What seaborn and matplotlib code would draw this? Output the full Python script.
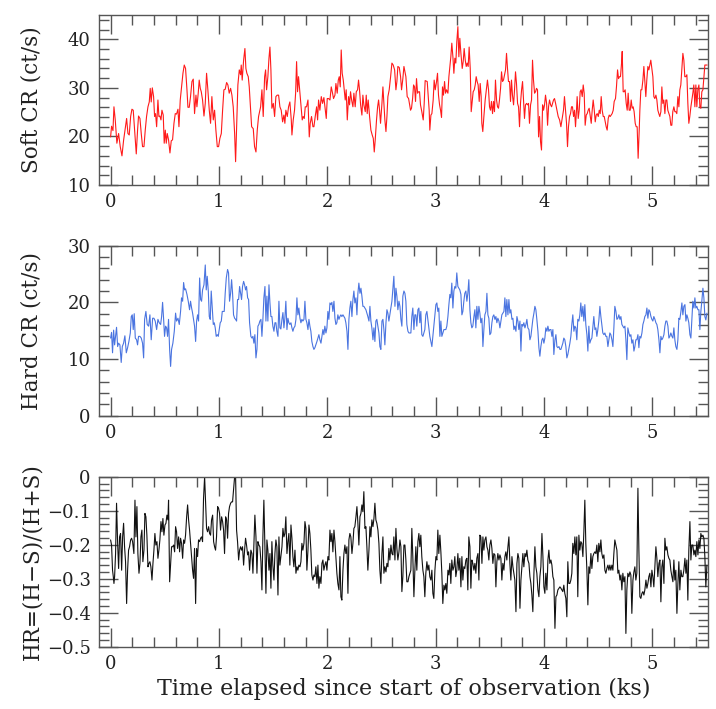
import matplotlib
matplotlib.use("Agg")
import matplotlib.pyplot as plt
from matplotlib.ticker import MultipleLocator, FuncFormatter
import pandas as pd
import seaborn as sns

# ---------------------------------
# Data
# ---------------------------------
soft_time = [
    0.000, 0.009, 0.022, 0.031, 0.043, 0.058, 0.074, 0.089, 0.105, 0.120,
    0.135, 0.148, 0.160, 0.172, 0.185, 0.197, 0.209, 0.222, 0.237, 0.249,
    0.258, 0.271, 0.283, 0.295, 0.308, 0.320, 0.332, 0.345, 0.357, 0.366,
    0.375, 0.385, 0.397, 0.406, 0.415, 0.425, 0.437, 0.446, 0.455, 0.465,
    0.474, 0.486, 0.495, 0.505, 0.514, 0.523, 0.535, 0.548, 0.560, 0.572,
    0.585, 0.597, 0.609, 0.622, 0.631, 0.643, 0.655, 0.668, 0.680, 0.692,
    0.705, 0.714, 0.726, 0.738, 0.751, 0.763, 0.775, 0.788, 0.797, 0.809,
    0.818, 0.828, 0.837, 0.849, 0.862, 0.874, 0.886, 0.898, 0.911, 0.923,
    0.935, 0.948, 0.960, 0.972, 0.985, 0.997, 1.009, 1.022, 1.034, 1.046,
    1.058, 1.071, 1.083, 1.095, 1.108, 1.120, 1.132, 1.145, 1.154, 1.166,
    1.175, 1.188, 1.200, 1.206, 1.215, 1.228, 1.240, 1.249, 1.258, 1.271,
    1.280, 1.302, 1.317, 1.329, 1.342, 1.354, 1.366, 1.385, 1.397, 1.409,
    1.422, 1.431, 1.440, 1.452, 1.462, 1.471, 1.480, 1.489, 1.502, 1.514,
    1.526, 1.538, 1.551, 1.563, 1.575, 1.588, 1.600, 1.609, 1.618, 1.631,
    1.643, 1.655, 1.668, 1.674, 1.686, 1.698, 1.708, 1.717, 1.726, 1.735,
    1.748, 1.757, 1.769, 1.778, 1.788, 1.797, 1.809, 1.822, 1.834, 1.843,
    1.855, 1.868, 1.877, 1.889, 1.902, 1.911, 1.920, 1.932, 1.945, 1.957,
    1.969, 1.982, 1.991, 2.000, 2.012, 2.025, 2.037, 2.049, 2.058, 2.071,
    2.080, 2.092, 2.102, 2.111, 2.120, 2.129, 2.138, 2.148, 2.157, 2.166,
    2.175, 2.185, 2.197, 2.206, 2.215, 2.225, 2.237, 2.246, 2.258, 2.268,
    2.280, 2.289, 2.298, 2.308, 2.320, 2.329, 2.338, 2.351, 2.360, 2.369,
    2.378, 2.391, 2.403, 2.415, 2.425, 2.434, 2.443, 2.455, 2.465, 2.474,
    2.483, 2.492, 2.505, 2.514, 2.523, 2.532, 2.542, 2.551, 2.560, 2.572,
    2.585, 2.597, 2.609, 2.622, 2.634, 2.643, 2.652, 2.665, 2.677, 2.686,
    2.698, 2.708, 2.717, 2.726, 2.738, 2.751, 2.769, 2.778, 2.788, 2.797,
    2.806, 2.815, 2.824, 2.834, 2.843, 2.852, 2.861, 2.873, 2.886, 2.895,
    2.904, 2.913, 2.923, 2.932, 2.941, 2.947, 2.957, 2.966, 2.978, 2.987,
    2.997, 3.009, 3.018, 3.027, 3.037, 3.046, 3.055, 3.064, 3.073, 3.083,
    3.092, 3.101, 3.114, 3.123, 3.132, 3.141, 3.150, 3.160, 3.169, 3.178,
    3.187, 3.196, 3.206, 3.215, 3.224, 3.234, 3.246, 3.255, 3.264, 3.274,
    3.283, 3.292, 3.301, 3.310, 3.320, 3.329, 3.338, 3.347, 3.357, 3.366,
    3.375, 3.384, 3.393, 3.403, 3.412, 3.421, 3.427, 3.436, 3.446, 3.458,
    3.470, 3.479, 3.489, 3.498, 3.507, 3.516, 3.526, 3.535, 3.544, 3.553,
    3.563, 3.572, 3.581, 3.590, 3.600, 3.609, 3.618, 3.627, 3.637, 3.646,
    3.655, 3.664, 3.673, 3.683, 3.692, 3.701, 3.710, 3.720, 3.729, 3.738,
    3.747, 3.757, 3.766, 3.775, 3.784, 3.794, 3.803, 3.812, 3.821, 3.830,
    3.840, 3.849, 3.858, 3.867, 3.877, 3.886, 3.895, 3.904, 3.914, 3.923,
    3.932, 3.941, 3.951, 3.960, 3.969, 3.978, 3.988, 3.997, 4.006, 4.015,
    4.025, 4.034, 4.043, 4.052, 4.062, 4.071, 4.080, 4.089, 4.098, 4.108,
    4.120, 4.132, 4.145, 4.157, 4.172, 4.181, 4.190, 4.200, 4.209, 4.218,
    4.227, 4.237, 4.246, 4.255, 4.264, 4.274, 4.283, 4.292, 4.301, 4.307,
    4.317, 4.326, 4.335, 4.344, 4.354, 4.363, 4.372, 4.381, 4.391, 4.400,
    4.409, 4.418, 4.428, 4.437, 4.446, 4.455, 4.465, 4.474, 4.483, 4.492,
    4.502, 4.511, 4.520, 4.529, 4.538, 4.548, 4.557, 4.566, 4.575, 4.584,
    4.594, 4.603, 4.612, 4.621, 4.630, 4.640, 4.649, 4.661, 4.670, 4.680,
    4.689, 4.698, 4.707, 4.717, 4.723, 4.732, 4.741, 4.750, 4.760, 4.769,
    4.778, 4.787, 4.797, 4.806, 4.815, 4.824, 4.833, 4.843, 4.852, 4.861,
    4.870, 4.880, 4.886, 4.895, 4.904, 4.914, 4.923, 4.932, 4.941, 4.950,
    4.960, 4.969, 4.978, 4.987, 4.997, 5.006, 5.015, 5.024, 5.034, 5.043,
    5.052, 5.061, 5.070, 5.080, 5.089, 5.098, 5.107, 5.117, 5.126, 5.135,
    5.144, 5.154, 5.163, 5.172, 5.181, 5.190, 5.200, 5.209, 5.218, 5.227,
    5.237, 5.246, 5.255, 5.264, 5.274, 5.283, 5.292, 5.301, 5.310, 5.320,
    5.329, 5.338, 5.347, 5.357, 5.366, 5.375, 5.384, 5.394, 5.403, 5.412,
    5.421, 5.431, 5.440, 5.449, 5.458, 5.468, 5.477, 5.486, 5.495, 5.507,
]
soft_rate = [
    19.9, 22.1, 21.2, 26.1, 23.4, 18.6, 20.6, 17.9, 16.0, 19.2,
    21.6, 23.7, 20.6, 20.3, 24.1, 25.6, 25.4, 21.3, 16.4, 21.3,
    24.2, 23.7, 20.6, 17.9, 17.9, 21.3, 24.1, 26.1, 27.1, 29.9,
    27.1, 30.0, 28.2, 24.1, 24.7, 22.0, 27.5, 24.1, 24.2, 23.4,
    25.4, 24.4, 18.6, 21.3, 18.6, 20.6, 19.3, 16.6, 19.1, 19.3,
    22.7, 24.7, 24.6, 25.6, 22.0, 27.5, 30.2, 33.0, 34.7, 34.0,
    29.6, 26.0, 26.0, 28.2, 31.3, 31.8, 24.7, 28.5, 26.1, 28.9,
    31.6, 29.9, 29.2, 27.5, 24.2, 26.8, 33.0, 29.6, 25.4, 22.7,
    28.2, 23.4, 25.4, 21.3, 17.9, 17.9, 19.6, 20.6, 25.4, 29.6,
    29.7, 31.1, 30.6, 28.9, 29.9, 28.5, 26.1, 20.6, 14.8, 24.1,
    30.6, 33.7, 32.7, 34.7, 31.6, 35.7, 38.1, 34.0, 33.0, 32.3,
    30.2, 22.0, 21.6, 17.9, 16.8, 21.3, 24.1, 26.1, 29.6, 24.1,
    32.3, 33.7, 29.6, 32.3, 36.1, 38.4, 33.7, 25.8, 26.8, 24.1,
    28.2, 28.5, 28.5, 26.1, 25.4, 23.0, 24.4, 22.7, 25.4, 24.1,
    26.1, 27.1, 23.4, 20.3, 23.4, 25.4, 28.9, 35.4, 29.2, 32.3,
    28.9, 26.8, 23.4, 24.1, 23.7, 26.1, 26.1, 27.5, 19.9, 22.7,
    24.1, 22.0, 22.0, 24.1, 26.1, 23.4, 27.5, 25.4, 28.2, 26.8,
    28.0, 25.4, 23.7, 27.8, 27.8, 27.5, 30.2, 28.9, 27.8, 28.5,
    30.9, 28.9, 31.6, 32.3, 30.2, 37.8, 33.0, 31.6, 29.6, 27.5,
    29.6, 23.4, 28.2, 26.5, 29.2, 27.5, 26.1, 28.9, 26.1, 29.2,
    29.6, 31.6, 29.6, 26.5, 24.4, 28.5, 26.5, 25.1, 28.5, 24.7,
    27.5, 24.1, 21.3, 20.3, 19.6, 16.8, 19.3, 23.4, 26.1, 27.5,
    25.4, 22.7, 26.8, 30.2, 26.8, 23.4, 21.0, 24.1, 28.2, 29.6,
    32.3, 35.1, 34.7, 33.7, 29.6, 31.3, 34.4, 34.2, 32.3, 29.6,
    31.9, 34.4, 33.3, 32.3, 28.2, 27.8, 25.4, 25.8, 27.8, 30.6,
    30.2, 27.2, 31.9, 28.9, 29.2, 29.2, 26.5, 25.1, 23.4, 26.8,
    31.5, 31.4, 31.3, 28.2, 25.4, 21.3, 24.4, 24.7, 27.5, 31.6,
    29.6, 31.3, 33.0, 28.5, 26.5, 25.4, 23.9, 30.2, 28.5, 31.3,
    28.9, 29.6, 28.9, 32.3, 34.4, 36.4, 39.2, 36.4, 33.0, 36.1,
    35.1, 39.5, 42.6, 36.4, 40.2, 37.1, 34.0, 35.4, 38.1, 35.7,
    34.4, 35.1, 34.4, 38.4, 34.0, 25.1, 27.2, 29.2, 29.6, 30.6,
    32.3, 31.3, 30.6, 27.2, 30.9, 28.2, 22.7, 21.0, 24.1, 27.5,
    29.9, 31.6, 29.6, 26.1, 25.4, 27.2, 24.7, 27.2, 25.1, 31.6,
    27.5, 26.1, 25.8, 27.5, 29.9, 33.3, 31.3, 31.6, 32.7, 33.7,
    37.1, 34.0, 31.3, 31.3, 27.2, 31.6, 28.5, 26.5, 29.6, 33.3,
    30.9, 26.8, 26.1, 22.0, 26.8, 29.6, 31.3, 27.5, 23.7, 26.5,
    26.8, 26.5, 26.8, 22.7, 26.5, 27.5, 35.7, 31.6, 28.9, 29.2,
    29.9, 29.6, 19.9, 24.1, 18.9, 17.2, 26.5, 25.4, 26.5, 28.5,
    26.8, 22.3, 26.1, 27.5, 26.5, 26.1, 26.8, 27.5, 27.8, 26.8,
    25.4, 24.1, 23.4, 22.0, 24.1, 25.4, 28.2, 25.4, 22.7, 17.9,
    22.0, 24.1, 24.7, 26.1, 26.1, 24.1, 25.4, 22.0, 25.4, 28.2,
    23.7, 25.4, 29.2, 29.6, 28.2, 30.6, 28.9, 22.3, 24.4, 24.7,
    25.4, 25.8, 24.1, 22.7, 25.4, 27.5, 25.4, 23.0, 24.4, 24.7,
    24.1, 25.4, 24.7, 28.2, 25.4, 24.1, 24.1, 23.0, 22.0, 21.3,
    23.7, 24.4, 24.1, 24.4, 24.7, 25.4, 27.2, 27.8, 30.2, 33.7,
    31.9, 32.3, 32.3, 35.1, 37.5, 29.2, 29.2, 29.6, 26.8, 25.4,
    28.9, 25.4, 25.4, 27.5, 25.8, 26.1, 25.1, 22.7, 22.0, 22.0,
    15.5, 21.3, 25.4, 29.6, 29.6, 31.6, 34.4, 31.3, 28.2, 31.6,
    34.4, 33.7, 34.7, 35.7, 34.0, 32.3, 28.2, 27.8, 28.5, 27.5,
    25.4, 24.7, 24.1, 25.1, 30.2, 26.8, 27.5, 24.7, 27.5, 27.5,
    25.4, 24.7, 24.1, 22.3, 22.3, 25.1, 26.1, 25.1, 25.1, 24.7,
    28.2, 26.1, 29.6, 30.6, 34.0, 37.1, 35.7, 32.3, 32.3, 32.7,
    26.8, 22.7, 24.1, 26.1, 27.5, 28.9, 30.6, 26.1, 30.6, 26.1,
    29.6, 30.6, 26.1, 25.8, 29.2, 29.6, 32.3, 34.7, 34.7, 34.7,
]

hard_time = [
    0.000, 0.009, 0.018, 0.028, 0.037, 0.046, 0.055, 0.065, 0.074, 0.086,
    0.098, 0.108, 0.120, 0.132, 0.145, 0.157, 0.169, 0.182, 0.191, 0.200,
    0.209, 0.218, 0.228, 0.240, 0.249, 0.258, 0.271, 0.283, 0.295, 0.305,
    0.314, 0.326, 0.338, 0.351, 0.363, 0.375, 0.388, 0.400, 0.412, 0.425,
    0.437, 0.449, 0.462, 0.471, 0.480, 0.489, 0.498, 0.508, 0.517, 0.526,
    0.535, 0.545, 0.554, 0.563, 0.575, 0.588, 0.600, 0.609, 0.622, 0.634,
    0.646, 0.655, 0.665, 0.674, 0.683, 0.692, 0.705, 0.717, 0.729, 0.738,
    0.748, 0.757, 0.766, 0.775, 0.785, 0.794, 0.803, 0.812, 0.822, 0.831,
    0.840, 0.849, 0.862, 0.874, 0.883, 0.892, 0.902, 0.911, 0.920, 0.929,
    0.938, 0.948, 0.957, 0.966, 0.975, 0.985, 0.994, 1.003, 1.012, 1.022,
    1.031, 1.040, 1.049, 1.058, 1.068, 1.080, 1.089, 1.098, 1.108, 1.117,
    1.126, 1.135, 1.145, 1.154, 1.163, 1.172, 1.182, 1.191, 1.200, 1.209,
    1.218, 1.228, 1.237, 1.246, 1.255, 1.265, 1.274, 1.283, 1.295, 1.305,
    1.314, 1.323, 1.332, 1.342, 1.351, 1.360, 1.369, 1.378, 1.388, 1.397,
    1.406, 1.415, 1.425, 1.434, 1.443, 1.452, 1.462, 1.471, 1.480, 1.489,
    1.498, 1.508, 1.517, 1.526, 1.535, 1.545, 1.554, 1.563, 1.572, 1.582,
    1.591, 1.600, 1.609, 1.618, 1.628, 1.637, 1.646, 1.655, 1.665, 1.674,
    1.683, 1.692, 1.702, 1.711, 1.720, 1.729, 1.738, 1.748, 1.757, 1.766,
    1.775, 1.785, 1.794, 1.803, 1.812, 1.822, 1.831, 1.840, 1.849, 1.858,
    1.868, 1.877, 1.886, 1.895, 1.905, 1.914, 1.923, 1.932, 1.942, 1.951,
    1.960, 1.969, 1.978, 1.988, 1.997, 2.006, 2.015, 2.025, 2.034, 2.043,
    2.052, 2.062, 2.071, 2.080, 2.089, 2.098, 2.108, 2.117, 2.126, 2.135,
    2.145, 2.154, 2.163, 2.172, 2.182, 2.191, 2.200, 2.209, 2.218, 2.228,
    2.237, 2.246, 2.255, 2.265, 2.274, 2.283, 2.292, 2.302, 2.311, 2.320,
    2.329, 2.338, 2.348, 2.357, 2.366, 2.375, 2.385, 2.394, 2.403, 2.412,
    2.422, 2.431, 2.440, 2.449, 2.458, 2.468, 2.477, 2.486, 2.495, 2.505,
    2.514, 2.523, 2.532, 2.542, 2.551, 2.560, 2.569, 2.578, 2.588, 2.597,
    2.606, 2.615, 2.625, 2.634, 2.643, 2.652, 2.662, 2.671, 2.680, 2.689,
    2.698, 2.708, 2.717, 2.726, 2.735, 2.745, 2.754, 2.772, 2.781, 2.790,
    2.800, 2.809, 2.818, 2.827, 2.837, 2.846, 2.855, 2.864, 2.873, 2.883,
    2.892, 2.901, 2.910, 2.920, 2.929, 2.938, 2.947, 2.957, 2.966, 2.975,
    2.984, 2.994, 3.003, 3.012, 3.021, 3.030, 3.040, 3.049, 3.058, 3.067,
    3.077, 3.086, 3.095, 3.104, 3.114, 3.123, 3.132, 3.141, 3.150, 3.160,
    3.169, 3.178, 3.187, 3.196, 3.206, 3.215, 3.224, 3.234, 3.243, 3.252,
    3.261, 3.270, 3.280, 3.289, 3.298, 3.307, 3.317, 3.326, 3.335, 3.344,
    3.354, 3.363, 3.372, 3.381, 3.391, 3.400, 3.409, 3.418, 3.428, 3.437,
    3.446, 3.455, 3.465, 3.474, 3.483, 3.492, 3.501, 3.511, 3.520, 3.529,
    3.538, 3.548, 3.557, 3.566, 3.575, 3.585, 3.594, 3.603, 3.612, 3.621,
    3.631, 3.640, 3.649, 3.658, 3.668, 3.677, 3.686, 3.695, 3.705, 3.714,
    3.723, 3.732, 3.742, 3.751, 3.760, 3.769, 3.779, 3.788, 3.797, 3.806,
    3.815, 3.825, 3.834, 3.843, 3.852, 3.862, 3.871, 3.880, 3.889, 3.898,
    3.908, 3.917, 3.926, 3.935, 3.945, 3.954, 3.963, 3.972, 3.982, 3.991,
    4.000, 4.009, 4.018, 4.028, 4.037, 4.046, 4.055, 4.065, 4.074, 4.083,
    4.092, 4.102, 4.111, 4.120, 4.129, 4.139, 4.148, 4.157, 4.175, 4.184,
    4.193, 4.203, 4.212, 4.221, 4.230, 4.240, 4.249, 4.258, 4.267, 4.277,
    4.286, 4.295, 4.304, 4.313, 4.323, 4.332, 4.341, 4.350, 4.360, 4.369,
    4.378, 4.387, 4.397, 4.406, 4.415, 4.424, 4.434, 4.443, 4.452, 4.461,
    4.471, 4.480, 4.489, 4.498, 4.507, 4.517, 4.526, 4.535, 4.544, 4.554,
    4.563, 4.572, 4.581, 4.591, 4.600, 4.609, 4.618, 4.628, 4.637, 4.646,
    4.655, 4.665, 4.674, 4.683, 4.692, 4.702, 4.711, 4.720, 4.729, 4.738,
    4.748, 4.757, 4.766, 4.775, 4.785, 4.794, 4.803, 4.812, 4.822, 4.831,
    4.840, 4.849, 4.858, 4.868, 4.877, 4.886, 4.895, 4.905, 4.914, 4.923,
    4.932, 4.942, 4.951, 4.960, 4.969, 4.978, 4.988, 4.997, 5.006, 5.015,
    5.025, 5.034, 5.043, 5.052, 5.062, 5.071, 5.080, 5.089, 5.098, 5.108,
    5.117, 5.126, 5.135, 5.145, 5.154, 5.163, 5.172, 5.182, 5.191, 5.200,
    5.209, 5.218, 5.228, 5.237, 5.246, 5.255, 5.265, 5.274, 5.283, 5.292,
    5.302, 5.311, 5.320, 5.329, 5.338, 5.348, 5.357, 5.366, 5.375, 5.385,
    5.394, 5.403, 5.412, 5.422, 5.431, 5.440, 5.449, 5.458, 5.468, 5.477,
    5.486, 5.495, 5.505,
]
hard_rate = [
    13.7, 14.7, 11.1, 15.1, 12.5, 14.0, 15.6, 12.2, 12.8, 12.5,
    9.4, 12.2, 12.8, 14.1, 11.1, 12.0, 13.1, 14.6, 17.5, 17.8,
    15.2, 18.0, 13.7, 13.4, 12.5, 14.0, 14.0, 13.7, 12.8, 10.2,
    17.0, 18.4, 16.1, 15.8, 17.8, 13.4, 17.2, 17.2, 16.7, 15.2,
    17.0, 16.4, 16.1, 17.5, 20.0, 17.2, 14.0, 15.8, 15.5, 14.0,
    17.0, 11.7, 8.7, 11.7, 12.8, 14.9, 18.1, 16.7, 17.2, 16.1,
    18.4, 20.8, 20.2, 23.5, 22.2, 22.4, 21.4, 20.2, 18.7, 20.2,
    19.0, 18.1, 17.0, 15.8, 13.1, 16.7, 17.8, 16.7, 24.3, 20.5,
    20.2, 22.2, 23.1, 26.6, 22.2, 24.6, 22.0, 17.5, 17.0, 22.0,
    19.3, 16.1, 16.4, 15.5, 14.0, 14.3, 14.0, 15.2, 16.4, 16.7,
    18.4, 18.4, 18.4, 21.6, 24.3, 25.8, 25.2, 20.2, 21.6, 24.0,
    21.6, 17.8, 17.2, 17.0, 16.7, 20.5, 20.5, 22.8, 21.6, 20.5,
    22.8, 23.7, 23.1, 22.2, 22.8, 20.8, 20.5, 16.4, 14.0, 13.7,
    14.0, 12.8, 14.3, 10.2, 11.7, 15.8, 16.1, 16.7, 17.0, 14.0,
    17.0, 20.8, 22.8, 16.7, 21.1, 16.7, 23.1, 19.9, 17.5, 17.5,
    15.8, 14.9, 16.4, 16.4, 14.9, 14.0, 20.2, 15.5, 15.3, 17.0,
    18.2, 15.5, 17.2, 20.2, 15.2, 17.2, 16.4, 16.1, 16.4, 15.5,
    14.9, 15.5, 15.8, 17.0, 20.8, 17.8, 19.0, 17.2, 16.4, 17.0,
    16.7, 17.0, 20.2, 17.0, 16.4, 15.2, 17.0, 15.8, 14.9, 13.1,
    12.2, 11.7, 12.0, 12.5, 13.1, 13.7, 14.3, 13.4, 12.8, 14.0,
    15.2, 14.3, 15.8, 14.6, 15.5, 18.4, 17.0, 19.9, 19.6, 20.0,
    18.4, 20.2, 17.2, 16.1, 16.4, 17.8, 17.0, 17.5, 17.8, 17.5,
    17.8, 17.5, 17.2, 16.4, 14.9, 11.7, 17.0, 19.0, 20.2, 17.5,
    20.5, 22.0, 19.9, 20.8, 17.8, 21.6, 23.4, 21.6, 22.5, 21.1,
    19.3, 19.3, 19.0, 18.7, 18.1, 17.5, 16.7, 19.3, 16.7, 15.5,
    13.4, 15.5, 13.1, 16.7, 17.0, 15.8, 14.6, 12.2, 11.7, 16.7,
    17.0, 15.2, 12.5, 16.4, 18.7, 18.1, 16.7, 17.8, 19.0, 20.2,
    22.5, 24.6, 19.3, 22.5, 21.1, 18.7, 20.2, 19.3, 17.0, 15.8,
    21.1, 22.0, 21.6, 20.2, 16.1, 14.9, 14.6, 14.6, 17.5, 19.0,
    15.2, 17.8, 17.8, 15.8, 18.7, 19.0, 16.4, 18.4, 14.3, 14.0,
    14.6, 15.2, 17.8, 18.4, 17.0, 15.5, 14.0, 13.1, 12.2, 14.0,
    15.8, 17.8, 19.6, 19.9, 18.4, 19.0, 14.0, 16.7, 14.0, 14.6,
    15.2, 15.2, 15.2, 15.8, 17.5, 19.6, 21.4, 20.8, 23.4, 19.0,
    22.0, 22.8, 22.5, 25.2, 22.8, 22.5, 22.2, 21.4, 17.8, 18.4,
    20.2, 21.6, 22.0, 20.2, 21.6, 24.0, 18.7, 16.4, 15.5, 15.8,
    17.5, 18.7, 15.5, 19.3, 17.0, 19.3, 18.1, 16.4, 17.2, 12.2,
    15.2, 17.8, 18.4, 21.6, 17.8, 17.2, 14.3, 14.6, 16.4, 17.5,
    17.8, 17.0, 17.5, 16.4, 17.2, 16.7, 15.5, 16.7, 17.8, 18.1,
    18.4, 20.8, 17.5, 20.5, 17.8, 20.5, 18.1, 18.7, 17.0, 17.2,
    15.2, 15.8, 14.9, 17.5, 16.7, 15.2, 16.7, 11.4, 16.1, 15.8,
    16.4, 15.5, 16.1, 17.0, 15.5, 15.2, 13.4, 14.0, 15.5, 17.0,
    18.1, 19.3, 18.7, 17.0, 14.9, 12.0, 10.5, 12.2, 13.4, 13.7,
    12.8, 13.7, 15.5, 14.9, 15.8, 14.9, 15.2, 15.2, 14.0, 15.2,
    10.8, 13.4, 14.3, 12.2, 12.0, 12.2, 11.7, 11.7, 12.8, 13.7,
    13.4, 12.2, 10.2, 10.8, 11.7, 12.8, 14.0, 16.1, 17.8, 14.9,
    15.8, 15.5, 13.4, 17.0, 16.7, 17.8, 19.9, 17.5, 19.3, 16.7,
    19.6, 16.1, 14.3, 11.4, 15.8, 12.8, 13.4, 13.7, 15.5, 17.5,
    15.2, 15.5, 14.0, 15.2, 16.7, 19.3, 17.5, 16.1, 14.6, 14.3,
    14.6, 14.0, 14.0, 12.2, 13.4, 14.6, 14.3, 13.4, 12.2, 15.5,
    19.3, 18.4, 17.0, 17.2, 17.8, 17.0, 17.5, 16.1, 15.8, 15.5,
    15.8, 13.4, 9.9, 15.5, 14.6, 14.0, 14.3, 12.8, 13.4, 11.4,
    12.2, 13.4, 13.4, 14.3, 12.0, 14.0, 13.7, 14.6, 16.1, 16.7,
    17.5, 17.8, 19.0, 17.2, 18.7, 18.4, 17.5, 17.0, 16.7, 17.5,
    17.0, 16.4, 16.1, 15.2, 13.4, 11.1, 14.0, 13.4, 13.7, 14.3,
    15.8, 16.7, 16.7, 15.8, 13.7, 14.0, 14.6, 14.0, 13.7, 15.5,
    13.4, 12.2, 11.7, 13.4, 17.2, 17.0, 18.4, 19.9, 17.8, 19.3,
    19.6, 16.7, 17.8, 17.2, 16.4, 14.3, 13.7, 17.0, 20.2, 19.0,
    20.8, 19.0, 19.3, 18.7, 18.7, 15.2, 18.4, 20.2, 22.5, 20.8,
    17.5, 16.9, 18.1,
]

hr_time = [
    0.000, 0.009, 0.018, 0.025, 0.031, 0.037, 0.046, 0.055, 0.065, 0.074,
    0.083, 0.092, 0.102, 0.111, 0.120, 0.129, 0.138, 0.148, 0.157, 0.166,
    0.175, 0.185, 0.194, 0.203, 0.215, 0.225, 0.234, 0.243, 0.252, 0.262,
    0.271, 0.280, 0.289, 0.298, 0.308, 0.317, 0.326, 0.335, 0.345, 0.354,
    0.363, 0.372, 0.382, 0.391, 0.400, 0.409, 0.418, 0.428, 0.437, 0.446,
    0.455, 0.465, 0.474, 0.483, 0.492, 0.502, 0.511, 0.520, 0.529, 0.535,
    0.545, 0.554, 0.563, 0.572, 0.582, 0.591, 0.600, 0.609, 0.618, 0.628,
    0.637, 0.646, 0.655, 0.665, 0.674, 0.683, 0.692, 0.702, 0.711, 0.720,
    0.729, 0.738, 0.748, 0.757, 0.766, 0.775, 0.785, 0.794, 0.803, 0.812,
    0.822, 0.831, 0.840, 0.849, 0.858, 0.868, 0.877, 0.886, 0.895, 0.905,
    0.914, 0.923, 0.932, 0.942, 0.951, 0.960, 0.969, 0.978, 0.988, 0.997,
    1.006, 1.015, 1.025, 1.034, 1.043, 1.052, 1.062, 1.071, 1.080, 1.089,
    1.098, 1.108, 1.117, 1.126, 1.135, 1.145, 1.154, 1.163, 1.172, 1.182,
    1.191, 1.200, 1.209, 1.218, 1.228, 1.237, 1.246, 1.255, 1.265, 1.274,
    1.283, 1.295, 1.305, 1.314, 1.323, 1.332, 1.342, 1.351, 1.360, 1.369,
    1.378, 1.388, 1.397, 1.406, 1.415, 1.425, 1.434, 1.443, 1.452, 1.462,
    1.471, 1.480, 1.489, 1.498, 1.508, 1.517, 1.526, 1.535, 1.545, 1.554,
    1.563, 1.572, 1.582, 1.591, 1.600, 1.609, 1.618, 1.628, 1.637, 1.646,
    1.655, 1.665, 1.674, 1.683, 1.692, 1.702, 1.711, 1.720, 1.729, 1.738,
    1.748, 1.757, 1.766, 1.775, 1.785, 1.794, 1.803, 1.812, 1.822, 1.831,
    1.840, 1.849, 1.858, 1.868, 1.877, 1.886, 1.895, 1.905, 1.914, 1.923,
    1.932, 1.942, 1.951, 1.960, 1.969, 1.978, 1.988, 1.997, 2.006, 2.015,
    2.025, 2.034, 2.043, 2.052, 2.062, 2.071, 2.080, 2.089, 2.098, 2.108,
    2.117, 2.126, 2.135, 2.145, 2.154, 2.163, 2.172, 2.182, 2.191, 2.200,
    2.209, 2.218, 2.228, 2.237, 2.246, 2.255, 2.265, 2.274, 2.283, 2.292,
    2.302, 2.311, 2.320, 2.329, 2.338, 2.348, 2.357, 2.366, 2.375, 2.385,
    2.394, 2.403, 2.412, 2.422, 2.431, 2.440, 2.449, 2.458, 2.468, 2.477,
    2.486, 2.495, 2.505, 2.514, 2.523, 2.532, 2.542, 2.551, 2.560, 2.569,
    2.578, 2.588, 2.597, 2.606, 2.615, 2.625, 2.634, 2.643, 2.652, 2.662,
    2.671, 2.680, 2.689, 2.698, 2.708, 2.717, 2.726, 2.735, 2.745, 2.754,
    2.772, 2.781, 2.790, 2.800, 2.809, 2.818, 2.827, 2.837, 2.846, 2.855,
    2.864, 2.873, 2.883, 2.892, 2.901, 2.910, 2.920, 2.929, 2.938, 2.947,
    2.957, 2.966, 2.975, 2.984, 2.994, 3.003, 3.012, 3.021, 3.030, 3.040,
    3.049, 3.058, 3.067, 3.077, 3.086, 3.095, 3.104, 3.114, 3.123, 3.132,
    3.141, 3.150, 3.160, 3.169, 3.178, 3.187, 3.196, 3.206, 3.215, 3.224,
    3.234, 3.243, 3.252, 3.261, 3.270, 3.280, 3.289, 3.298, 3.307, 3.317,
    3.326, 3.335, 3.344, 3.354, 3.363, 3.372, 3.381, 3.391, 3.400, 3.409,
    3.418, 3.428, 3.437, 3.446, 3.455, 3.465, 3.474, 3.483, 3.492, 3.501,
    3.511, 3.520, 3.529, 3.538, 3.548, 3.557, 3.566, 3.575, 3.585, 3.594,
    3.603, 3.612, 3.621, 3.631, 3.640, 3.649, 3.658, 3.668, 3.677, 3.686,
    3.695, 3.705, 3.714, 3.723, 3.732, 3.742, 3.751, 3.760, 3.769, 3.779,
    3.788, 3.797, 3.806, 3.815, 3.825, 3.834, 3.843, 3.852, 3.862, 3.871,
    3.880, 3.889, 3.898, 3.908, 3.917, 3.926, 3.935, 3.945, 3.954, 3.963,
    3.972, 3.982, 3.991, 4.000, 4.009, 4.018, 4.028, 4.037, 4.046, 4.055,
    4.065, 4.074, 4.083, 4.092, 4.102, 4.111, 4.120, 4.129, 4.139, 4.148,
    4.157, 4.175, 4.184, 4.193, 4.203, 4.212, 4.221, 4.230, 4.240, 4.249,
    4.258, 4.267, 4.277, 4.286, 4.295, 4.304, 4.313, 4.323, 4.332, 4.341,
    4.350, 4.360, 4.369, 4.378, 4.387, 4.397, 4.406, 4.415, 4.424, 4.434,
    4.443, 4.452, 4.461, 4.471, 4.480, 4.489, 4.498, 4.507, 4.517, 4.526,
    4.535, 4.544, 4.554, 4.563, 4.572, 4.581, 4.591, 4.600, 4.609, 4.618,
    4.628, 4.637, 4.646, 4.655, 4.665, 4.674, 4.683, 4.692, 4.702, 4.711,
    4.720, 4.729, 4.738, 4.748, 4.757, 4.766, 4.775, 4.785, 4.794, 4.803,
    4.812, 4.822, 4.831, 4.840, 4.849, 4.858, 4.868, 4.877, 4.886, 4.895,
    4.905, 4.914, 4.923, 4.932, 4.942, 4.951, 4.960, 4.969, 4.978, 4.988,
    4.997, 5.006, 5.015, 5.025, 5.034, 5.043, 5.052, 5.062, 5.071, 5.080,
    5.089, 5.098, 5.108, 5.117, 5.126, 5.135, 5.145, 5.154, 5.163, 5.172,
    5.182, 5.191, 5.200, 5.209, 5.218, 5.228, 5.237, 5.246, 5.255, 5.265,
    5.274, 5.283, 5.292, 5.302, 5.311, 5.320, 5.329, 5.338, 5.348, 5.357,
    5.366, 5.375, 5.385, 5.394, 5.403, 5.412, 5.422, 5.431, 5.440, 5.449,
    5.458, 5.468, 5.477, 5.486, 5.495, 5.505,
]
hr_ratio = [
    -0.186, -0.201, -0.275, -0.294, -0.314, -0.294, -0.226, -0.078, -0.196, -0.270,
    -0.177, -0.167, -0.275, -0.177, -0.137, -0.206, -0.250, -0.373, -0.275, -0.216,
    -0.206, -0.186, -0.181, -0.191, -0.226, -0.069, -0.177, -0.088, -0.226, -0.284,
    -0.255, -0.177, -0.157, -0.250, -0.216, -0.108, -0.118, -0.172, -0.265, -0.255,
    -0.250, -0.265, -0.304, -0.255, -0.216, -0.167, -0.201, -0.191, -0.240, -0.216,
    -0.186, -0.132, -0.162, -0.123, -0.172, -0.142, -0.137, -0.113, -0.127, -0.069,
    -0.309, -0.255, -0.206, -0.206, -0.201, -0.221, -0.147, -0.162, -0.211, -0.177,
    -0.221, -0.181, -0.196, -0.240, -0.186, -0.196, -0.172, -0.118, -0.083, -0.127,
    -0.157, -0.196, -0.235, -0.275, -0.299, -0.211, -0.373, -0.211, -0.235, -0.186,
    -0.191, -0.181, -0.177, -0.191, -0.064, 0.000, -0.078, -0.152, -0.162, -0.147,
    -0.167, -0.172, -0.127, -0.113, -0.191, -0.206, -0.216, -0.177, -0.088, -0.093,
    -0.108, -0.157, -0.118, -0.132, -0.157, -0.226, -0.118, -0.127, -0.181, -0.108,
    -0.088, -0.078, -0.074, -0.074, -0.039, 0.000, 0.000, -0.157, -0.191, -0.245,
    -0.216, -0.206, -0.216, -0.206, -0.260, -0.216, -0.181, -0.201, -0.230, -0.221,
    -0.275, -0.216, -0.226, -0.284, -0.196, -0.113, -0.177, -0.284, -0.191, -0.201,
    -0.206, -0.250, -0.333, -0.177, -0.069, -0.206, -0.343, -0.186, -0.216, -0.275,
    -0.226, -0.328, -0.191, -0.260, -0.304, -0.226, -0.186, -0.206, -0.348, -0.177,
    -0.260, -0.235, -0.206, -0.152, -0.177, -0.167, -0.118, -0.226, -0.191, -0.167,
    -0.260, -0.142, -0.181, -0.235, -0.265, -0.216, -0.284, -0.265, -0.275, -0.260,
    -0.265, -0.250, -0.196, -0.216, -0.196, -0.132, -0.152, -0.275, -0.216, -0.142,
    -0.167, -0.216, -0.289, -0.304, -0.289, -0.294, -0.265, -0.314, -0.260, -0.328,
    -0.294, -0.314, -0.255, -0.245, -0.275, -0.260, -0.250, -0.275, -0.235, -0.245,
    -0.157, -0.191, -0.167, -0.221, -0.157, -0.191, -0.235, -0.284, -0.314, -0.333,
    -0.235, -0.353, -0.363, -0.275, -0.226, -0.201, -0.226, -0.206, -0.343, -0.186,
    -0.167, -0.177, -0.226, -0.196, -0.152, -0.147, -0.118, -0.088, -0.137, -0.201,
    -0.118, -0.108, -0.083, -0.103, -0.044, -0.152, -0.147, -0.206, -0.275, -0.216,
    -0.147, -0.177, -0.127, -0.147, -0.123, -0.078, -0.127, -0.137, -0.157, -0.196,
    -0.275, -0.314, -0.226, -0.177, -0.284, -0.265, -0.280, -0.255, -0.265, -0.211,
    -0.245, -0.201, -0.226, -0.230, -0.177, -0.245, -0.152, -0.211, -0.245, -0.221,
    -0.186, -0.206, -0.338, -0.294, -0.201, -0.201, -0.245, -0.309, -0.309, -0.294,
    -0.275, -0.152, -0.235, -0.353, -0.275, -0.206, -0.275, -0.191, -0.167, -0.206,
    -0.172, -0.235, -0.275, -0.294, -0.353, -0.284, -0.250, -0.275, -0.260, -0.294,
    -0.304, -0.275, -0.343, -0.358, -0.275, -0.235, -0.245, -0.157, -0.226, -0.172,
    -0.221, -0.284, -0.373, -0.319, -0.333, -0.314, -0.343, -0.275, -0.289, -0.255,
    -0.314, -0.245, -0.275, -0.265, -0.235, -0.294, -0.275, -0.226, -0.275, -0.240,
    -0.324, -0.235, -0.304, -0.265, -0.270, -0.245, -0.240, -0.333, -0.177, -0.206,
    -0.328, -0.245, -0.255, -0.275, -0.255, -0.284, -0.240, -0.226, -0.304, -0.172,
    -0.177, -0.255, -0.177, -0.216, -0.186, -0.177, -0.206, -0.216, -0.245, -0.201,
    -0.186, -0.211, -0.255, -0.226, -0.230, -0.324, -0.250, -0.226, -0.245, -0.230,
    -0.240, -0.304, -0.255, -0.275, -0.235, -0.221, -0.245, -0.206, -0.177, -0.255,
    -0.304, -0.235, -0.265, -0.284, -0.304, -0.397, -0.255, -0.226, -0.240, -0.387,
    -0.304, -0.265, -0.226, -0.265, -0.226, -0.235, -0.216, -0.245, -0.255, -0.294,
    -0.314, -0.348, -0.397, -0.284, -0.206, -0.265, -0.284, -0.333, -0.353, -0.294,
    -0.265, -0.167, -0.235, -0.324, -0.343, -0.284, -0.333, -0.245, -0.216, -0.255,
    -0.245, -0.260, -0.294, -0.304, -0.446, -0.353, -0.348, -0.333, -0.328, -0.324,
    -0.328, -0.338, -0.319, -0.343, -0.358, -0.412, -0.250, -0.314, -0.314, -0.304,
    -0.284, -0.196, -0.226, -0.177, -0.230, -0.177, -0.353, -0.172, -0.216, -0.191,
    -0.196, -0.235, -0.162, -0.069, -0.196, -0.275, -0.377, -0.265, -0.284, -0.226,
    -0.270, -0.235, -0.226, -0.221, -0.226, -0.201, -0.250, -0.196, -0.221, -0.186,
    -0.226, -0.240, -0.230, -0.275, -0.284, -0.270, -0.260, -0.275, -0.260, -0.275,
    -0.260, -0.275, -0.226, -0.186, -0.201, -0.216, -0.284, -0.275, -0.304, -0.289,
    -0.333, -0.284, -0.309, -0.294, -0.461, -0.333, -0.284, -0.294, -0.280, -0.289,
    -0.402, -0.304, -0.280, -0.265, -0.304, -0.284, -0.034, -0.216, -0.353, -0.358,
    -0.343, -0.338, -0.348, -0.333, -0.304, -0.328, -0.314, -0.294, -0.284, -0.324,
    -0.275, -0.294, -0.324, -0.260, -0.206, -0.240, -0.294, -0.255, -0.245, -0.368,
    -0.265, -0.245, -0.314, -0.181, -0.216, -0.206, -0.230, -0.240, -0.245, -0.275,
    -0.294, -0.309, -0.245, -0.304, -0.275, -0.402, -0.314, -0.250, -0.333, -0.275,
    -0.294, -0.294, -0.275, -0.240, -0.284, -0.245, -0.363, -0.216, -0.132, -0.245,
    -0.201, -0.201, -0.230, -0.216, -0.235, -0.191, -0.230, -0.186, -0.211, -0.167,
    -0.177, -0.172, -0.181, -0.235, -0.324, -0.260,
]

ylabels = ["Soft CR (ct/s)", "Hard CR (ct/s)", "HR=(H\u2212S)/(H+S)"]
xlabel = "Time elapsed since start of observation (ks)"

# ---------------------------------
# Build tables
# ---------------------------------
soft = pd.DataFrame({"t": soft_time, "rate": soft_rate})
hard = pd.DataFrame({"t": hard_time, "rate": hard_rate})
hr = pd.DataFrame({"t": hr_time, "rate": hr_ratio})

sns.set_style("ticks")
plt.rcParams["font.family"] = ["DejaVu Serif"]
plt.rcParams["axes.unicode_minus"] = True


def short_fmt(v, pos):
    if abs(v) < 1e-9:
        return "0"
    return f"{v:g}".replace("-", "\u2212")


fig = plt.figure(figsize=(7.16, 7.09), dpi=100)
left, width = 99 / 716, 609 / 716
boxes = [(15, 185), (245.7, 415.7), (476.7, 646.7)]

panels = [
    (soft, "#ff1a1a", (10, 45), 10, 2),
    (hard, "#4a74e0", (0, 30), 10, 2),
    (hr, "#111111", (-0.5, 0), 0.1, 0.02),
]

frame_col = "#555555"
text_col = "#222222"
for i, (df, col, ylim, major, minor) in enumerate(panels):
    top, bot = boxes[i]
    ax = fig.add_axes([left, 1 - bot / 709, width, (bot - top) / 709])
    sns.lineplot(data=df, x="t", y="rate", ax=ax, color=col, linewidth=0.8,
                 estimator=None, sort=False, legend=False)
    ax.set_xlim(-0.107, 5.515)
    ax.set_ylim(*ylim)
    ax.xaxis.set_major_locator(MultipleLocator(1))
    ax.xaxis.set_minor_locator(MultipleLocator(0.2))
    ax.yaxis.set_major_locator(MultipleLocator(major))
    ax.yaxis.set_minor_locator(MultipleLocator(minor))
    ax.yaxis.set_major_formatter(FuncFormatter(short_fmt))
    ax.tick_params(which="both", direction="in", top=True, right=True,
                   color=frame_col, width=1, labelsize=13, labelcolor=text_col)
    ax.tick_params(which="major", length=14, pad=6)
    ax.tick_params(which="minor", length=7)
    for s in ax.spines.values():
        s.set_color(frame_col)
        s.set_linewidth(1)
    ax.set_ylabel(ylabels[i], fontsize=15.5, color=text_col)
    ax.yaxis.set_label_coords(-0.092, 0.5)
    if i == 2:
        ax.set_xlabel(xlabel, fontsize=16, color=text_col)
        ax.xaxis.set_label_coords(0.5, -0.185)
    else:
        ax.set_xlabel("")

fig.savefig("out.png", dpi=100)
plt.close()
